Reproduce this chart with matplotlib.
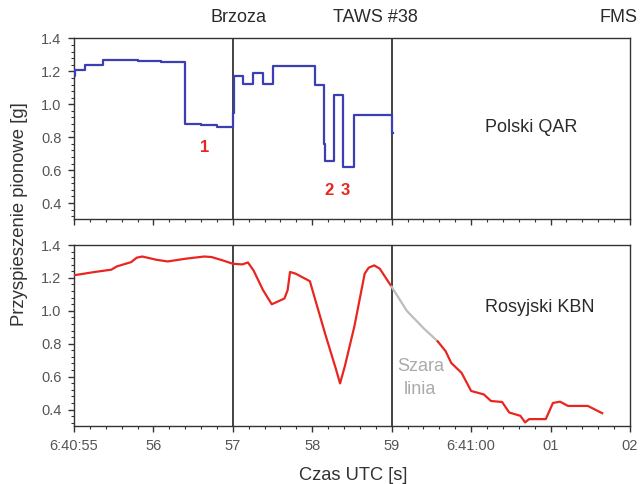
import numpy as np
import matplotlib
matplotlib.use("Agg")
import matplotlib.pyplot as plt
from matplotlib.ticker import MultipleLocator, FuncFormatter
import matplotlib.transforms as mtransforms

plt.rcParams["font.family"] = ["Liberation Sans", "DejaVu Sans"]

# Polski QAR: step levels (time in s after 6:40:00, value in g)
qar_t = [55.00, 55.01, 55.14, 55.37, 55.80, 56.10, 56.40, 56.60, 56.80, 57.00, 57.01,
         57.13, 57.26, 57.38, 57.51, 57.75, 58.04, 58.15, 58.16, 58.27, 58.39, 58.53,
         58.80, 59.00, 59.02]
qar_g = [1.17, 1.21, 1.24, 1.27, 1.262, 1.255, 0.878, 0.872, 0.862, 0.95, 1.17,
         1.124, 1.19, 1.124, 1.23, 1.235, 1.12, 0.76, 0.657, 1.059, 0.617, 0.935,
         0.932, 0.828, 0.828]

# Rosyjski KBN (red) before the gray gap
kbn_t1 = [55.00, 55.26, 55.47, 55.54, 55.72, 55.79, 55.86, 56.04, 56.18, 56.41, 56.64,
          56.73, 56.87, 57.00, 57.12, 57.19, 57.26, 57.38, 57.49, 57.56, 57.65, 57.69,
          57.72, 57.79, 57.97, 58.16, 58.30, 58.35, 58.41, 58.53, 58.66, 58.71, 58.78,
          58.85, 59.00]
kbn_g1 = [1.216, 1.236, 1.25, 1.27, 1.296, 1.323, 1.33, 1.31, 1.30, 1.317, 1.33,
          1.327, 1.307, 1.286, 1.282, 1.294, 1.246, 1.126, 1.04, 1.055, 1.075, 1.126,
          1.236, 1.226, 1.18, 0.864, 0.643, 0.559, 0.663, 0.905, 1.226, 1.262, 1.276,
          1.256, 1.146]

# gray line ("Szara linia")
gray_t = [59.00, 59.19, 59.40, 59.58]
gray_g = [1.146, 1.0, 0.895, 0.814]

# Rosyjski KBN (red) after the gray gap
kbn_t2 = [59.58, 59.68, 59.75, 59.88, 60.00, 60.16, 60.25, 60.39, 60.48, 60.62, 60.68,
          60.73, 60.94, 61.03, 61.12, 61.22, 61.47, 61.65]
kbn_g2 = [0.814, 0.754, 0.683, 0.623, 0.513, 0.492, 0.452, 0.446, 0.382, 0.362, 0.322,
          0.342, 0.342, 0.44, 0.448, 0.422, 0.422, 0.378]

events_t = [57.0, 59.0]
x_ticks = [55, 56, 57, 58, 59, 60, 61, 62]
x_labels = ["6:40:55", "56", "57", "58", "59", "6:41:00", "01", "02"]

BLUE = "#3b3fb3"
RED = "#e8261f"
GRAY = "#bdbdbd"
TICK_C = "#555555"
TXT = "#2a2a2a"

fig = plt.figure(figsize=(6.41, 4.84), dpi=100)
ax1 = fig.add_axes([0.1154, 0.5465, 0.8674, 0.374])
ax2 = fig.add_axes([0.1154, 0.1198, 0.8674, 0.374])

for ax in (ax1, ax2):
    ax.set_xlim(55, 62)
    ax.set_ylim(0.3, 1.4)
    ax.set_xticks(x_ticks)
    ax.xaxis.set_minor_locator(MultipleLocator(0.2))
    ax.set_yticks([0.4, 0.6, 0.8, 1.0, 1.2, 1.4])
    ax.yaxis.set_minor_locator(MultipleLocator(0.04))
    ax.yaxis.set_major_formatter(FuncFormatter(lambda v, p: f"{v:.1f}"))
    ax.tick_params(axis="both", which="major", direction="out", length=4, width=1,
                   color="#333333", labelcolor=TICK_C, labelsize=10.5)
    ax.tick_params(axis="y", which="major", pad=5)
    ax.tick_params(axis="x", which="major", pad=5.5)
    ax.tick_params(axis="both", which="minor", direction="out", length=2.5, width=0.8,
                   color="#333333")
    for s in ax.spines.values():
        s.set_color("#333333")
        s.set_linewidth(1.0)
    for t in events_t:
        ax.axvline(t, color="#222222", lw=1.2, zorder=1)

ax1.tick_params(axis="x", labelbottom=False)
ax2.set_xticklabels(x_labels)

ax1.plot(qar_t, qar_g, drawstyle="steps-post", color=BLUE, lw=1.6, zorder=3)
ax2.plot(kbn_t1, kbn_g1, color=RED, lw=1.6, zorder=3)
ax2.plot(gray_t, gray_g, color=GRAY, lw=1.6, zorder=3)
ax2.plot(kbn_t2, kbn_g2, color=RED, lw=1.6, zorder=3)

# event labels above top panel
trans = mtransforms.blended_transform_factory(ax1.transData, ax1.transAxes)
ax1.text(57.07, 1.118, "Brzoza", transform=trans, ha="center", va="center",
         fontsize=13, color=TXT)
ax1.text(58.79, 1.118, "TAWS #38", transform=trans, ha="center", va="center",
         fontsize=13, color=TXT)
ax1.text(62.10, 1.118, "FMS", transform=trans, ha="right", va="center",
         fontsize=13, color=TXT, clip_on=False)

ax1.text(60.75, 0.86, "Polski QAR", ha="center", va="center", fontsize=13, color=TXT)
ax2.text(60.87, 1.02, "Rosyjski KBN", ha="center", va="center", fontsize=13, color=TXT)

ax1.text(56.65, 0.74, "1", ha="center", va="center", fontsize=12, color=RED, fontweight="bold")
ax1.text(58.21, 0.475, "2", ha="center", va="center", fontsize=12, color=RED, fontweight="bold")
ax1.text(58.41, 0.475, "3", ha="center", va="center", fontsize=12, color=RED, fontweight="bold")

ax2.text(59.36, 0.59, "Szara\nlinia", ha="center", va="center", multialignment="center",
         fontsize=13, color="#aaaaaa", linespacing=1.45)

fig.text(20 / 641, 1 - 214 / 484, "Przyspieszenie pionowe [g]", rotation=90, ha="center",
         va="center", fontsize=13.3, color="#333333")
fig.text(353 / 641, 1 - 476 / 484, "Czas UTC [s]", ha="center", va="center",
         fontsize=13.2, color="#333333")

fig.savefig("out.png", dpi=100)
